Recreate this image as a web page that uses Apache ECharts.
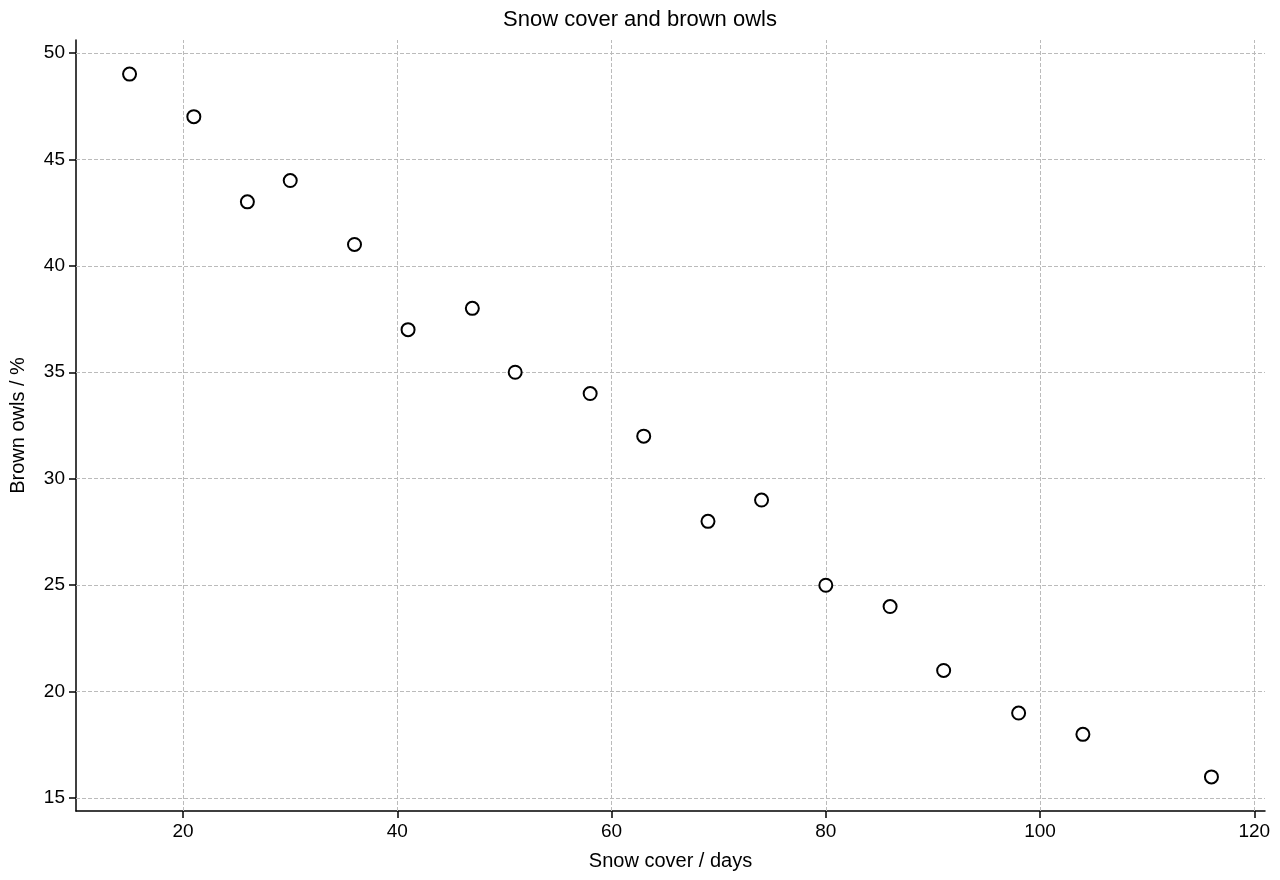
<!DOCTYPE html>
<html><head><meta charset="utf-8">
<script src="https://cdn.jsdelivr.net/npm/echarts@6/dist/echarts.min.js"></script>
<style>html,body{margin:0;padding:0;background:#fff}#c{width:1280px;height:880px}</style>
</head><body><div id="c"></div>
<script>
const snowDays = [15,21,26,30,36,41,47,51,58,63,69,74,80,86,91,98,104,116];
const owlsPct  = [49,47,43,44,41,37,38,35,34,32,28,29,25,24,21,19,18,16];
const xTicks = [20,40,60,80,100,120];
const yTicks = [15,20,25,30,35,40,45,50];
const F = 'Liberation Sans, Arial, sans-serif';
const gridLine = {type:'dashed', color:'#bbb', width:1};
const chart = echarts.init(document.getElementById('c'));
chart.setOption({
  animation:false,
  title:{text:'Snow cover and brown owls', left:'center', top:4, textStyle:{fontFamily:F,fontSize:22,fontWeight:'normal',color:'#000'}},
  grid:{left:73,right:15,top:40,bottom:69,containLabel:false},
  xAxis:{type:'value',min:10,max:121,name:'Snow cover / days',nameLocation:'middle',nameGap:40,
    nameTextStyle:{fontFamily:F,fontSize:20,color:'#000'},
    axisLine:{show:true,lineStyle:{color:'#000',width:1.5}},
    axisTick:{show:true,inside:false,interval:0,customValues:xTicks,length:7,lineStyle:{color:'#000',width:1.5}},
    axisLabel:{customValues:xTicks,fontFamily:F,fontSize:19,color:'#000',margin:11},
    splitLine:{show:false}},
  yAxis:{type:'value',min:14.4,max:50.6,name:'Brown owls / %',nameLocation:'middle',nameGap:48,
    nameTextStyle:{fontFamily:F,fontSize:20,color:'#000'},
    axisLine:{show:true,lineStyle:{color:'#000',width:1.5}},
    axisTick:{show:true,inside:false,interval:0,customValues:yTicks,length:7,lineStyle:{color:'#000',width:1.5}},
    axisLabel:{customValues:yTicks,fontFamily:F,fontSize:19,color:'#000',margin:11},
    splitLine:{show:false}},
  series:[{type:'scatter',data:snowDays.map((x,i)=>[x,owlsPct[i]]),symbol:'circle',symbolSize:13,
    itemStyle:{color:'#fff',borderColor:'#000',borderWidth:2,opacity:1},z:3,
    markLine:{silent:true,symbol:'none',label:{show:false},lineStyle:gridLine,z:1,
      data:[...xTicks.map(v=>({xAxis:v})),...yTicks.map(v=>({yAxis:v}))]}}]
});
</script></body></html>
